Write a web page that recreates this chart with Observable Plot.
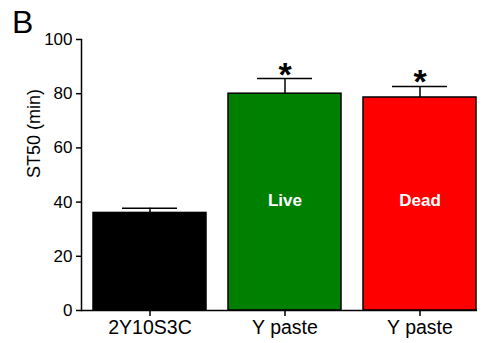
<!DOCTYPE html>
<html>
<head>
<meta charset="utf-8">
<script src="https://cdn.jsdelivr.net/npm/d3@7"></script>
<script src="https://cdn.jsdelivr.net/npm/@observablehq/plot@0.6"></script>
<style>
  html, body { margin: 0; padding: 0; background: #fff; }
  #wrap { position: relative; width: 483px; height: 343px; font-family: "Liberation Sans", Arial, sans-serif; }
  #panel { position: absolute; left: 12px; top: 6px; font-size: 32px; line-height: 1; color: #000; }
</style>
</head>
<body>
<div id="wrap"><div id="panel">B</div></div>
<script>
const groups = ["2Y10S3C", "Y paste (live)", "Y paste (dead)"];
const tickLabels = ["2Y10S3C", "Y paste", "Y paste"];
const values = [36, 80, 78.6];
const errors = [1.7, 5.6, 4.1];
const barLabels = ["", "Live", "Dead"];
const colors = ["#000000", "#008000", "#ff0000"];
const stars = ["", "*", "*"];
const yTicks = [0, 20, 40, 60, 80, 100];

const data = groups.map((g, i) => ({
  group: g, value: values[i], err: errors[i], top: values[i] + errors[i],
  label: barLabels[i], color: colors[i], star: stars[i]
}));

const chart = Plot.plot({
  width: 483,
  height: 343,
  marginLeft: 81,
  marginRight: 6,
  marginTop: 39,
  marginBottom: 33,
  style: { fontFamily: "Liberation Sans, Arial, sans-serif", fontSize: "17px", color: "#000", background: "transparent", overflow: "visible" },
  x: { domain: groups, range: [92, 477], paddingInner: 0.16, paddingOuter: 0, label: null },
  y: { domain: [0, 100], label: null },
  marks: [
    Plot.barY(data, { x: "group", y: "value", fill: "color", stroke: "#000", strokeWidth: 1.5 }),
    Plot.ruleX(data, { x: "group", y1: "value", y2: "top", stroke: "#000", strokeWidth: 1.5 }),
    Plot.tickY(data, { x: "group", y: "top", stroke: "#000", strokeWidth: 1.5, insetLeft: 29, insetRight: 29 }),
    Plot.text(data, { x: "group", y: "top", text: "star", dy: 7, fontSize: 34, fontWeight: "bold", lineAnchor: "bottom", fill: "#000" }),
    Plot.text(data, { x: "group", text: "label", frameAnchor: "bottom", lineAnchor: "bottom", dy: -105, fill: "#fff", fontWeight: "bold", fontSize: 17 }),
    Plot.axisY({ ticks: yTicks, tickSize: 5, tickPadding: 4, strokeWidth: 1.5, fontSize: 17, label: null }),
    Plot.axisX({ tickSize: 6, tickPadding: 4, strokeWidth: 1.5, fontSize: 19.5, tickFormat: (d) => tickLabels[groups.indexOf(d)], label: null }),
    Plot.frame({ anchor: "left", strokeWidth: 1.5 }),
    Plot.ruleY([0], { strokeWidth: 1.5 }),
    Plot.text(["ST50 (min)"], { frameAnchor: "left", dx: -47, dy: 3, rotate: -90, fontSize: 18, fill: "#000" })
  ]
});
document.getElementById("wrap").appendChild(chart);
</script>
</body>
</html>
